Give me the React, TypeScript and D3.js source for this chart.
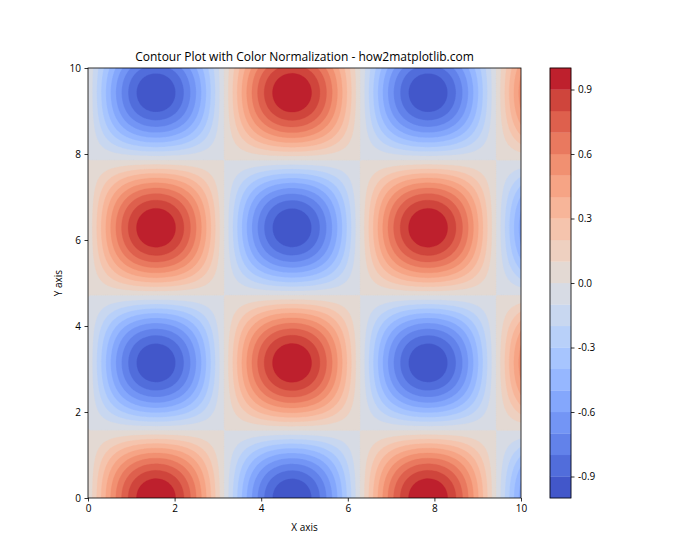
import { useEffect, useRef } from "react";
import * as d3 from "d3";

// Data: z = sin(x) * cos(y) on a 0..10 grid, filled contours at 21 levels
const xDomain = [0, 10];
const yDomain = [0, 10];
const gridSize = 200;
const levels = d3.range(21).map((i) => -1 + i * 0.1);
const axisTicks = [0, 2, 4, 6, 8, 10];
const barTicks = [-0.9, -0.6, -0.3, 0.0, 0.3, 0.6, 0.9];

// coolwarm colormap control points
const coolwarmStops = [
  [59, 76, 192], [68, 90, 204], [77, 104, 215], [87, 117, 225], [98, 130, 234],
  [108, 142, 241], [119, 154, 247], [130, 165, 251], [141, 176, 254], [152, 185, 255],
  [163, 194, 255], [174, 201, 253], [184, 208, 249], [194, 213, 244], [204, 217, 238],
  [213, 219, 230], [221, 221, 221], [229, 216, 209], [236, 211, 197], [241, 204, 185],
  [245, 196, 173], [247, 187, 160], [247, 177, 148], [247, 166, 135], [244, 154, 123],
  [241, 141, 111], [236, 127, 99], [229, 112, 88], [222, 96, 77], [213, 80, 66],
  [203, 62, 56], [192, 40, 47], [180, 4, 38],
];
const coolwarm = d3.interpolateRgbBasis(coolwarmStops.map((c) => d3.rgb(c[0], c[1], c[2]).toString()));

const ContourChart = () => {
  const svgRef = useRef(null);

  useEffect(() => {
    const W = 700;
    const H = 560;
    const margin = { top: 68, left: 88, right: 179, bottom: 62 };
    const width = W - margin.left - margin.right;
    const height = H - margin.top - margin.bottom;
    const font = "'Open Sans', 'DejaVu Sans', sans-serif";

    const root = d3.select(svgRef.current);
    root.selectAll("*").remove();
    root.attr("width", W).attr("height", H).style("font-family", font);

    const x = d3.scaleLinear().domain(xDomain).range([0, width]);
    const y = d3.scaleLinear().domain(yDomain).range([height, 0]);

    // grid values
    const step = (xDomain[1] - xDomain[0]) / (gridSize - 1);
    const values = new Array(gridSize * gridSize);
    for (let j = 0; j < gridSize; j++) {
      for (let i = 0; i < gridSize; i++) {
        values[j * gridSize + i] = Math.sin(i * step) * Math.cos(j * step);
      }
    }

    const norm = (v) => (v - levels[0]) / (levels[levels.length - 1] - levels[0]);
    const bandColor = (k) => coolwarm(norm((levels[k] + levels[k + 1]) / 2));

    const contours = d3.contours().size([gridSize, gridSize]).thresholds(levels.slice(0, -1))(values);

    const proj = d3.geoTransform({
      point: function (px, py) {
        this.stream.point(x((px - 0.5) * step), y((py - 0.5) * step));
      },
    });
    const path = d3.geoPath(proj);

    const g = root.append("g").attr("transform", `translate(${margin.left},${margin.top})`);

    g.append("defs")
      .append("clipPath")
      .attr("id", "plot-clip")
      .append("rect")
      .attr("width", width)
      .attr("height", height);

    const body = g.append("g").attr("clip-path", "url(#plot-clip)");
    body
      .selectAll("path")
      .data(contours)
      .enter()
      .append("path")
      .attr("d", path)
      .attr("fill", (d, k) => bandColor(k))
      .attr("stroke", (d, k) => bandColor(k))
      .attr("stroke-width", 0.3);

    // axes
    const xAxis = g
      .append("g")
      .attr("transform", `translate(0,${height})`)
      .call(d3.axisBottom(x).tickValues(axisTicks).tickSize(3.5).tickPadding(3.5).tickFormat(d3.format("d")));
    const yAxis = g
      .append("g")
      .call(d3.axisLeft(y).tickValues(axisTicks).tickSize(3.5).tickPadding(3.5).tickFormat(d3.format("d")));
    [xAxis, yAxis].forEach((a) => {
      a.select(".domain").remove();
      a.selectAll("line").attr("stroke", "#000").attr("stroke-width", 0.8);
      a.selectAll("text").attr("font-size", 10).attr("font-family", font).attr("fill", "#000");
    });

    g.append("rect")
      .attr("width", width)
      .attr("height", height)
      .attr("fill", "none")
      .attr("stroke", "#000")
      .attr("stroke-width", 0.8);

    // title and labels
    g.append("text")
      .attr("x", width / 2)
      .attr("y", -7)
      .attr("text-anchor", "middle")
      .attr("font-size", 12)
      .text("Contour Plot with Color Normalization - how2matplotlib.com");
    g.append("text")
      .attr("x", width / 2)
      .attr("y", height + 33)
      .attr("text-anchor", "middle")
      .attr("font-size", 10)
      .text("X axis");
    g.append("text")
      .attr("transform", "rotate(-90)")
      .attr("x", -height / 2)
      .attr("y", -26)
      .attr("text-anchor", "middle")
      .attr("font-size", 10)
      .text("Y axis");

    // colorbar
    const cbX = 550 - margin.left;
    const cbW = 21;
    const cb = g.append("g").attr("transform", `translate(${cbX},0)`);
    const cy = d3.scaleLinear().domain([levels[0], levels[levels.length - 1]]).range([height, 0]);
    cb.selectAll("rect.band")
      .data(levels.slice(0, -1))
      .enter()
      .append("rect")
      .attr("class", "band")
      .attr("x", 0)
      .attr("width", cbW)
      .attr("y", (d, k) => cy(levels[k + 1]))
      .attr("height", (d, k) => cy(levels[k]) - cy(levels[k + 1]))
      .attr("fill", (d, k) => bandColor(k))
      .attr("stroke", (d, k) => bandColor(k))
      .attr("stroke-width", 0.3);
    cb.append("rect")
      .attr("width", cbW)
      .attr("height", height)
      .attr("fill", "none")
      .attr("stroke", "#000")
      .attr("stroke-width", 0.8);
    const cbAxis = cb
      .append("g")
      .attr("transform", `translate(${cbW},0)`)
      .call(d3.axisRight(cy).tickValues(barTicks).tickSize(3.5).tickPadding(3.5).tickFormat(d3.format(".1f")));
    cbAxis.select(".domain").remove();
    cbAxis.selectAll("line").attr("stroke", "#000").attr("stroke-width", 0.8);
    cbAxis.selectAll("text").attr("font-size", 10).attr("font-family", font).attr("fill", "#000")
      .text((d) => (d < 0 ? "-" + d3.format(".1f")(-d) : d3.format(".1f")(d)));
  }, []);

  return (
    <div style={{ width: 700, height: 560, background: "#fff" }}>
      <svg ref={svgRef} style={{ display: "block" }}></svg>
    </div>
  );
};

export default function App() {
  return (
    <div style={{ margin: -8 }}>
      <ContourChart />
    </div>
  );
}
